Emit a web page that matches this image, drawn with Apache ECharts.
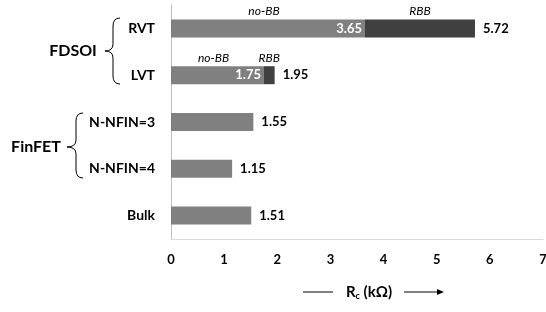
<!DOCTYPE html>
<html>
<head>
<meta charset="utf-8">
<script src="https://cdn.jsdelivr.net/npm/echarts@6/dist/echarts.min.js"></script>
<style>
  html, body { margin: 0; padding: 0; background: #fff; }
  #chart { width: 546px; height: 312px; }
</style>
</head>
<body>
<div id="chart"></div>
<script>
var categories = ['RVT', 'LVT', 'N-NFIN=3', 'N-NFIN=4', 'Bulk'];
var noBB = [3.65, 1.75, 1.55, 1.15, 1.51];
var withRBB = [5.72, 1.95, null, null, null];
var xTicks = [0, 1, 2, 3, 4, 5, 6, 7];

var font = 'Lato';
var rbbPart = withRBB.map(function (v, i) {
    return v == null ? null : +(v - noBB[i]).toFixed(2);
});

var myChart = echarts.init(document.getElementById('chart'));

var option = {
    backgroundColor: '#fff',
    animation: false,
    textStyle: { fontFamily: font },
    grid: { left: 171, right: 3, top: 5, bottom: 73, outerBoundsMode: 'none', containLabel: false },
    xAxis: {
        type: 'value',
        min: xTicks[0],
        max: xTicks[xTicks.length - 1],
        interval: 1,
        axisLine: { show: true, lineStyle: { color: '#d9d9d9' } },
        axisTick: { show: false },
        splitLine: { show: false },
        axisLabel: { color: '#000', fontWeight: 'bold', fontSize: 13, margin: 14, fontFamily: font }
    },
    yAxis: {
        type: 'category',
        data: categories,
        inverse: true,
        axisLine: { show: true, lineStyle: { color: '#bfbfbf' } },
        axisTick: { show: false },
        axisLabel: { color: '#000', fontWeight: 'bold', fontSize: 14, margin: 16, fontFamily: font }
    },
    series: [
        {
            name: 'no-BB',
            type: 'bar',
            stack: 'rc',
            barWidth: 18,
            itemStyle: { color: '#808080' },
            data: noBB.map(function (v, i) {
                var hasRbb = withRBB[i] != null;
                return {
                    value: v,
                    label: hasRbb ? {
                        show: true, position: 'insideRight', color: '#fff',
                        fontWeight: 'bold', fontSize: 13, distance: 3
                    } : {
                        show: true, position: 'right', color: '#000',
                        fontWeight: 'bold', fontSize: 13, distance: 8
                    }
                };
            })
        },
        {
            name: 'RBB',
            type: 'bar',
            stack: 'rc',
            barWidth: 18,
            itemStyle: { color: '#404040' },
            data: rbbPart.map(function (v, i) {
                return {
                    value: v,
                    label: {
                        show: v != null, position: 'right', color: '#000',
                        fontWeight: 'bold', fontSize: 13, distance: 8,
                        formatter: function () { return withRBB[i].toFixed(2); }
                    }
                };
            })
        }
    ]
};
myChart.setOption(option);

// italic segment captions above the FDSOI bars
var graphics = [];
withRBB.forEach(function (v, i) {
    if (v == null) return;
    var y = myChart.convertToPixel({ yAxisIndex: 0 }, categories[i]) - 17;
    var x0 = myChart.convertToPixel({ xAxisIndex: 0 }, 0);
    var x1 = myChart.convertToPixel({ xAxisIndex: 0 }, noBB[i]);
    var x2 = myChart.convertToPixel({ xAxisIndex: 0 }, v);
    graphics.push({
        type: 'text', x: (x0 + x1) / 2 - 4, y: y,
        style: { text: 'no-BB', fill: '#000', font: 'italic 12px ' + font, textAlign: 'center', textVerticalAlign: 'middle' }
    });
    graphics.push({
        type: 'text', x: (x1 + x2) / 2, y: y,
        style: { text: 'RBB', fill: '#000', font: 'italic 12px ' + font, textAlign: 'center', textVerticalAlign: 'middle' }
    });
});

// curly brace: right edge xr, spine xs, tip xt, from yt to yb, middle ym
function brace(xr, xs, xt, yt, ym, yb) {
    var st = { stroke: '#000', fill: null, lineWidth: 1 };
    return [
        { type: 'bezierCurve', shape: { x1: xr, y1: yt, cpx1: xs, cpy1: yt, x2: xs, y2: yt + 8 }, style: st },
        { type: 'line', shape: { x1: xs, y1: yt + 8, x2: xs, y2: ym - 7 }, style: st },
        { type: 'bezierCurve', shape: { x1: xs, y1: ym - 7, cpx1: xs, cpy1: ym, x2: xt, y2: ym }, style: st },
        { type: 'bezierCurve', shape: { x1: xt, y1: ym, cpx1: xs, cpy1: ym, x2: xs, y2: ym + 7 }, style: st },
        { type: 'line', shape: { x1: xs, y1: ym + 7, x2: xs, y2: yb - 8 }, style: st },
        { type: 'bezierCurve', shape: { x1: xs, y1: yb - 8, cpx1: xs, cpy1: yb, x2: xr, y2: yb }, style: st }
    ];
}

graphics.push({
    type: 'text', x: 73, y: 51,
    style: { text: 'FDSOI', fill: '#000', font: 'bold 16px ' + font, textAlign: 'center', textVerticalAlign: 'middle' }
});
graphics = graphics.concat(brace(120, 113, 105, 18, 51, 84));
graphics.push({
    type: 'text', x: 36, y: 147,
    style: { text: 'FinFET', fill: '#000', font: 'bold 16px ' + font, textAlign: 'center', textVerticalAlign: 'middle' }
});
graphics = graphics.concat(brace(83, 76, 67, 113, 147, 178));

// axis title with arrow
graphics.push(
    {
        type: 'line', shape: { x1: 303, y1: 292, x2: 333, y2: 292 },
        style: { stroke: '#000', lineWidth: 1 }
    },
    {
        type: 'text', x: 369, y: 292,
        style: {
            text: '{b|R}{s|c}{b| (kΩ)}', textAlign: 'center', textVerticalAlign: 'middle',
            rich: {
                b: { fontFamily: font, fontWeight: 'bold', fontSize: 15, fill: '#000' },
                s: { fontFamily: font, fontWeight: 'bold', fontSize: 9, fill: '#000', padding: [8, 0, 0, 0] }
            }
        }
    },
    {
        type: 'line', shape: { x1: 404, y1: 292, x2: 438, y2: 292 },
        style: { stroke: '#000', lineWidth: 1 }
    },
    {
        type: 'polygon', shape: { points: [[437, 289], [444, 292], [437, 295]] },
        style: { fill: '#000' }
    }
);
myChart.setOption({ graphic: graphics });
</script>
</body>
</html>
